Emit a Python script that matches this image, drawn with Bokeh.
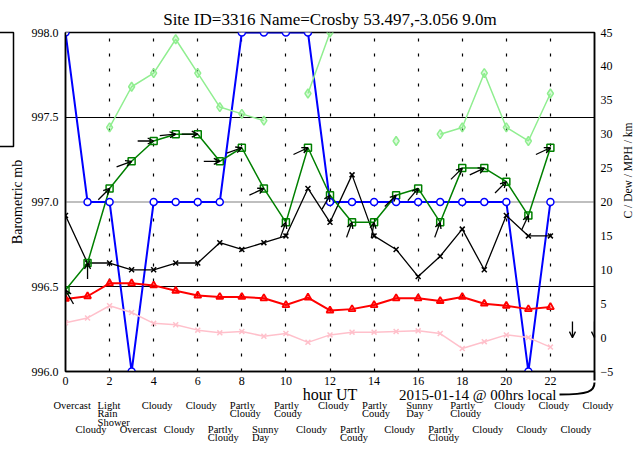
import math
from bokeh.plotting import figure
from bokeh.models import (Range1d, LinearAxis, FixedTicker, Arrow, OpenHead, NormalHead,
                          ColumnDataSource, Span, PrintfTickFormatter)
from bokeh.embed import file_html
from bokeh.resources import INLINE
from bokeh.core.properties import value

NaN = float("nan")

# ---------------- data ----------------
hours = list(range(23))
pressure_mb = [998, 997, 997, 996, 997, 997, 997, 997, 998, 998, 998, 998,
               997, 997, 997, 997, 997, 997, 997, 997, 997, 996, 997]
visibility_km = [NaN, NaN, 31, 37, 39, 44, 39, 34, 33, 32, NaN, 36,
                 45, NaN, NaN, 29, NaN, 30, 31, 39, 31, 29, 36]
wind_mph = [7, 11, 22, 26, 29, 30, 30, 26, 28, 22, 17, 28,
            21, 17, 17, 21, 22, 17, 25, 25, 23, 18, 28]
temp_c = [18, 11, 11, 10, 10, 11, 11, 14, 13, 14, 15, 22,
          17, 24, 15, 13, 9, 12, 16, 10, 18, 15, 15]
feels_c = [5.7, 6.1, 8.0, 8.0, 7.7, 6.9, 6.2, 6.0, 6.0, 5.8, 4.8, 5.9,
           4.0, 4.2, 4.8, 5.8, 5.8, 5.4, 6.0, 5.0, 4.7, 4.2, 4.5]
dew_c = [2.2, 2.9, 4.7, 3.7, 2.1, 1.9, 1.1, 0.7, 0.9, 0.2, 0.6, -0.7,
         0.4, 0.8, 0.8, 0.9, 1.0, 0.6, -1.6, -0.6, 0.4, 0.0, -1.4]

# wind direction (degrees, wind coming from) for hours 0..24
wind_hours = list(range(25))
wind_dir = [150, 180, 225, 250, 270, 265, 270, 270, 250, 245, 200, 245,
            210, 200, 190, 225, 220, 200, 225, 245, 225, 205, 245, 0, 0]
extra_wind_mph = [0, 0]  # hours 23, 24

weather_hours = list(range(25))
weather = ["Overcast", "Cloudy", "Light\nRain\nShower", "Overcast", "Cloudy",
           "Cloudy", "Cloudy", "Partly\nCloudy", "Partly\nCloudy", "Sunny\nDay",
           "Partly\nCoudy", "Cloudy", "Cloudy", "Partly\nCoudy", "Partly\nCoudy",
           "Cloudy", "Sunny\nDay", "Partly\nCloudy", "Partly\nCloudy", "Cloudy",
           "Cloudy", "Cloudy", "Cloudy", "Cloudy", "Cloudy"]

x_ticks = list(range(0, 23, 2))
left_ticks = [996.0, 996.5, 997.0, 997.5, 998.0]
right_ticks = list(range(-5, 46, 5))

title_text = "Site ID=3316 Name=Crosby 53.497,-3.056 9.0m"
x_label = "hour UT"
date_text = "2015-01-14 @ 00hrs local"
left_label = "Barometric mb"
right_label = "C / Dew / MPH / km"

# ---------------- layout ----------------
FONT = "Liberation Serif"
W, H = 633, 443
FL, FT, FW, FH = 65, 32, 529, 339
X0, X1 = 0, 24
Y0, Y1 = 996.0, 998.0
R0, R1 = -5, 45
PX_H = FW / (X1 - X0)
PX_R = FH / (R1 - R0)
PX_L = FH / (Y1 - Y0)

def hx(px):  # canvas px -> hour
    return X0 + (px - FL) / PX_H

def ly(py):  # canvas px -> left-axis value
    return Y1 - (py - FT) / PX_L

def ry(py):  # canvas px -> right-axis value
    return R1 - (py - FT) / PX_R

p = figure(width=W, height=H, output_backend="svg", toolbar_location=None,
           x_range=Range1d(X0, X1), y_range=Range1d(Y0, Y1),
           min_border_left=FL, min_border_top=FT,
           min_border_right=W - FL - FW, min_border_bottom=H - FT - FH,
           background_fill_color="white", border_fill_color="white")
p.extra_y_ranges = {"right": Range1d(R0, R1)}

p.title.text = title_text
p.title.text_font = FONT
p.title.text_font_size = "17px"
p.title.text_font_style = "normal"
p.title.text_color = "black"
p.title.align = "center"
p.title.standoff = 8

p.outline_line_color = "black"
p.outline_line_width = 1.5

def style_axis(ax, standoff):
    ax.axis_line_color = "black"
    ax.axis_line_width = 1.5
    ax.major_tick_line_color = None
    ax.minor_tick_line_color = None
    ax.major_tick_in = 0
    ax.major_tick_out = 0
    ax.minor_tick_in = 0
    ax.minor_tick_out = 0
    ax.major_label_text_font = FONT
    ax.major_label_text_font_size = "12px"
    ax.major_label_text_color = "black"
    ax.major_label_standoff = standoff
    ax.axis_label_text_font = FONT
    ax.axis_label_text_font_style = "normal"
    ax.axis_label_text_color = "black"

xa = p.xaxis[0]
style_axis(xa, 5)
xa.ticker = FixedTicker(ticks=x_ticks)

ya = p.yaxis[0]
style_axis(ya, 7)
ya.ticker = FixedTicker(ticks=left_ticks)
ya.formatter = PrintfTickFormatter(format="%.1f")
ya.axis_label = left_label
ya.axis_label_text_font_size = "14px"
ya.axis_label_standoff = 4

ra = LinearAxis(y_range_name="right")
style_axis(ra, 6)
ra.ticker = FixedTicker(ticks=right_ticks)
p.add_layout(ra, "right")

p.xgrid.ticker = FixedTicker(ticks=x_ticks[1:])
p.xgrid.grid_line_color = "black"
p.xgrid.grid_line_width = 1.2
p.xgrid.grid_line_dash = "3 12"
p.ygrid.ticker = FixedTicker(ticks=[996.5, 997.5])
p.ygrid.grid_line_color = "black"
p.ygrid.grid_line_width = 1
p.add_layout(Span(location=997.0, dimension="width", line_color="#808080",
                  line_width=1.2, level="underlay"))

# ---------------- series ----------------
p.line(hours, pressure_mb, line_color="#0000ff", line_width=2)
p.line(hours, visibility_km, y_range_name="right", line_color="#90ee90", line_width=1.5)
p.scatter(hours, visibility_km, y_range_name="right", marker="diamond", size=9,
          line_color="#90ee90", line_width=1.5, fill_color="#90ee90", fill_alpha=0.3)
p.line(hours, dew_c, y_range_name="right", line_color="#ffc0cb", line_width=1.5)
p.scatter(hours, dew_c, y_range_name="right", marker="x", size=7,
          line_color="#ffc0cb", line_width=1.5)
p.line(hours, feels_c, y_range_name="right", line_color="#ff0000", line_width=2)
p.scatter(hours, feels_c, y_range_name="right", marker="triangle", size=7,
          line_color="#ff0000", line_width=1.8, fill_color="#ff0000", fill_alpha=0.25)
p.line(hours, temp_c, y_range_name="right", line_color="black", line_width=1.3)
p.scatter(hours, temp_c, y_range_name="right", marker="x", size=7,
          line_color="black", line_width=1.5)
p.line(hours, wind_mph, y_range_name="right", line_color="#008000", line_width=1.5)
p.scatter(hours, wind_mph, y_range_name="right", marker="square", size=7,
          line_color="#008000", line_width=1.5, fill_color=None)
p.scatter(hours, pressure_mb, marker="circle", size=7, line_color="#0000ff",
          line_width=1.5, fill_color="white")

# ---------------- wind arrows ----------------
L = 16.0
speeds = wind_mph + extra_wind_mph
xs, ys, xe, ye = [], [], [], []
for h, s, d in zip(wind_hours, speeds, wind_dir):
    a = math.radians((d + 180) % 360)
    dx = math.sin(a) * L / PX_H
    dy = math.cos(a) * L / PX_R
    xe.append(h)
    ye.append(s)
    xs.append(h - dx)
    ys.append(s - dy)
arrow_src = ColumnDataSource(dict(x_start=xs, y_start=ys, x_end=xe, y_end=ye))
p.add_layout(Arrow(source=arrow_src, x_start="x_start", y_start="y_start",
                   x_end="x_end", y_end="y_end", y_range_name="right",
                   line_color="black", line_width=1.3,
                   end=OpenHead(size=6, line_color="black", line_width=1.3)))

# ---------------- texts outside the frame ----------------
wx_src = ColumnDataSource(dict(
    x=weather_hours, y=[Y0] * len(weather_hours), text=weather,
    yo=[28 if h % 2 == 0 else 52 for h in weather_hours]))
r = p.text(x="x", y="y", text="text", source=wx_src, x_offset=-12, y_offset="yo",
           text_font=value(FONT), text_font_size="10.5px", text_color="black",
           text_align="left", text_baseline="top", text_line_height=0.78)
r.level = "overlay"

r = p.text(x=[(X0 + X1) / 2], y=[Y0], text=[x_label], y_offset=23,
           text_font=value(FONT), text_font_size="16px", text_color="black",
           text_align="center", text_baseline="middle")
r.level = "overlay"

r = p.text(x=[X1], y=[Y0], text=[date_text], x_offset=-38, y_offset=23,
           text_font=value(FONT), text_font_size="15px", text_color="black",
           text_align="right", text_baseline="middle")
r.level = "overlay"

r = p.text(x=[X1], y=[ry(170)], text=[right_label], x_offset=33, y_range_name="right",
           angle=math.pi / 2, text_font=value(FONT), text_font_size="11.5px",
           text_color="black", text_align="center", text_baseline="middle")
r.level = "overlay"

# curved pointer from the date label to the right axis
r = p.bezier(x0=[hx(559)], y0=[ly(394)], cx0=[hx(588)], cy0=[ly(394)],
             cx1=[hx(594)], cy1=[ly(391)], x1=[X1], y1=[ly(382)],
             line_color="black", line_width=2)
r.level = "overlay"
p.add_layout(Arrow(x_start=X1, y_start=ly(383), x_end=X1, y_end=Y0,
                   line_color="black", line_width=2,
                   end=NormalHead(size=9, fill_color="black", line_color="black")))

# clipped legend box at the far left
r = p.quad(left=[hx(-40)], right=[hx(13)], top=[ly(32)], bottom=[ly(146)],
           fill_color=None, line_color="black", line_width=1.5)
r.level = "overlay"

open("out.html", "w").write(file_html(p, INLINE))
